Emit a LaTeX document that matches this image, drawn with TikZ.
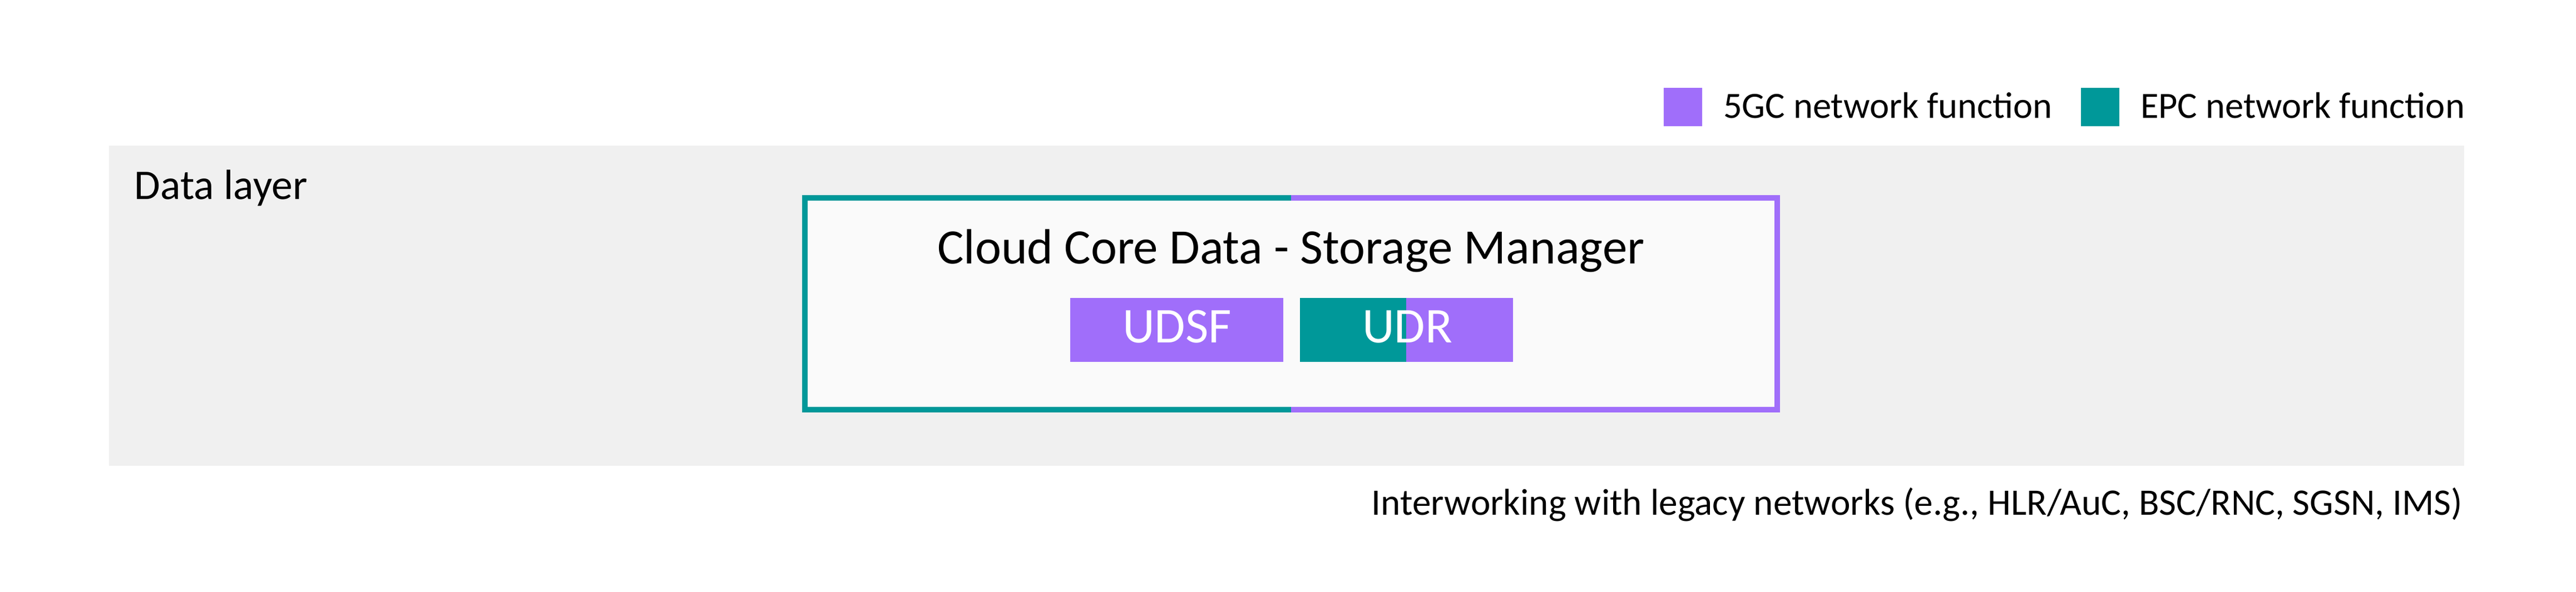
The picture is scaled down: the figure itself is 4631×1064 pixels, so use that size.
\documentclass[tikz,border=0pt]{standalone}
\usepackage{fontspec}
\setmainfont{Carlito}
\usetikzlibrary{calc}

\definecolor{nfpurple}{RGB}{160,110,250}
\definecolor{epcteal}{RGB}{0,152,153}
\definecolor{layergray}{RGB}{240,240,240}
\definecolor{boxwhite}{RGB}{250,250,250}

\tikzset{
  txt/.style={inner sep=0pt, outer sep=0pt},
  nfbox/.style={inner sep=0pt, outer sep=0pt, minimum width=38.3pt, minimum height=11.5pt}
}

\begin{document}
\begin{tikzpicture}[x=0.1pt, y=-0.1pt]
  \useasboundingbox (0,0) rectangle (4631,1064);

  % legend
  \node (k5gc) at (3025.5,192.5) [nfbox, fill=nfpurple, minimum width=6.9pt, minimum height=6.9pt] {};
  \node (t5gc) at (3098,212) [txt, anchor=base west, font=\fontsize{6.65}{8}\selectfont] {5GC network function};
  \node (kepc) at (3775.5,192.5) [nfbox, fill=epcteal, minimum width=6.9pt, minimum height=6.9pt] {};
  \node (tepc) at (3848,212) [txt, anchor=base west, font=\fontsize{6.65}{8}\selectfont] {EPC network function};

  % data layer
  \node (layer) at (2313,550) [txt, fill=layergray, minimum width=423.4pt, minimum height=57.6pt] {};
  \node (ltitle) at (242,358) [txt, anchor=base west, font=\fontsize{7.6}{9}\selectfont] {Data layer};

  % storage manager box
  \fill[boxwhite] (1447,356) rectangle (3195,737);
  \draw[epcteal, line width=1pt] (2321,356) -- (1447,356) -- (1447,737) -- (2321,737);
  \draw[nfpurple, line width=1pt] (2321,356) -- (3195,356) -- (3195,737) -- (2321,737);
  \node (cc) at (2321,474) [txt, anchor=base, font=\fontsize{8.9}{10}\selectfont] {Cloud Core Data - Storage Manager};

  \node (udsf) at (2115.5,593.5) [nfbox, fill=nfpurple] {};
  \node (udr) at (2528,593.5) [nfbox, fill=nfpurple] {};
  \fill[epcteal] (udr.south west) rectangle (udr.north);
  \node at (2116,616) [txt, anchor=base, text=white, font=\fontsize{9}{10}\selectfont] {UDSF};
  \node at (2530,616) [txt, anchor=base, text=white, font=\fontsize{9}{10}\selectfont] {UDR};

  \node (legacy) at (4427,926) [txt, anchor=base east, font=\fontsize{6.72}{8}\selectfont] {Interworking with legacy networks (e.g., HLR/AuC, BSC/RNC, SGSN, IMS)};
\end{tikzpicture}
\end{document}
